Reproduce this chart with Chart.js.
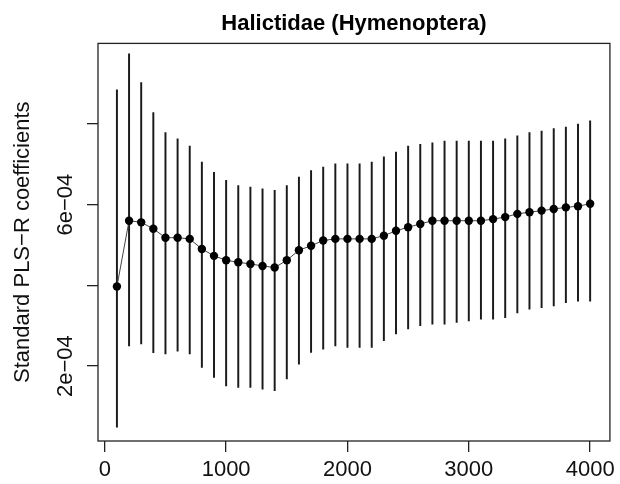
<!DOCTYPE html>
<html>
<head>
<meta charset="utf-8">
<script src="https://cdn.jsdelivr.net/npm/chart.js@4.4.0/dist/chart.umd.min.js"></script>
<style>
  html, body { margin: 0; padding: 0; background: #fff; }
  #wrap { width: 620px; height: 484px; }
</style>
</head>
<body>
<div id="wrap"><canvas id="c" width="620" height="484"></canvas></div>
<script>
// Number of components / wavelength index on the x axis
const xValues = [100,200,300,400,500,600,700,800,900,1000,1100,1200,1300,1400,1500,1600,1700,1800,1900,2000,
                 2100,2200,2300,2400,2500,2600,2700,2800,2900,3000,3100,3200,3300,3400,3500,3600,3700,3800,3900,4000];
// Standard PLS-R coefficients (point estimates)
const coefValues = [3.97e-4,5.60e-4,5.56e-4,5.40e-4,5.18e-4,5.18e-4,5.15e-4,4.90e-4,4.73e-4,4.62e-4,
                    4.57e-4,4.53e-4,4.48e-4,4.44e-4,4.62e-4,4.87e-4,4.98e-4,5.11e-4,5.15e-4,5.15e-4,
                    5.15e-4,5.15e-4,5.23e-4,5.35e-4,5.44e-4,5.52e-4,5.60e-4,5.60e-4,5.60e-4,5.60e-4,
                    5.60e-4,5.64e-4,5.69e-4,5.77e-4,5.81e-4,5.85e-4,5.89e-4,5.93e-4,5.96e-4,6.02e-4];
// Lower ends of the vertical bars
const lowerValues = [0.49e-4,2.50e-4,2.55e-4,2.33e-4,2.30e-4,2.37e-4,2.30e-4,1.97e-4,1.72e-4,1.51e-4,
                     1.47e-4,1.47e-4,1.43e-4,1.39e-4,1.68e-4,2.05e-4,2.34e-4,2.42e-4,2.50e-4,2.46e-4,
                     2.46e-4,2.46e-4,2.63e-4,2.80e-4,2.92e-4,3.00e-4,3.04e-4,3.04e-4,3.08e-4,3.12e-4,
                     3.16e-4,3.16e-4,3.20e-4,3.32e-4,3.41e-4,3.45e-4,3.49e-4,3.57e-4,3.61e-4,3.61e-4];
// Upper ends of the vertical bars
const upperValues = [8.84e-4,9.73e-4,9.02e-4,8.28e-4,7.78e-4,7.63e-4,7.45e-4,7.05e-4,6.80e-4,6.60e-4,
                     6.47e-4,6.43e-4,6.39e-4,6.35e-4,6.47e-4,6.68e-4,6.84e-4,6.93e-4,7.01e-4,7.01e-4,
                     7.01e-4,7.05e-4,7.18e-4,7.30e-4,7.45e-4,7.49e-4,7.53e-4,7.57e-4,7.57e-4,7.57e-4,
                     7.57e-4,7.57e-4,7.63e-4,7.70e-4,7.78e-4,7.82e-4,7.88e-4,7.92e-4,7.99e-4,8.07e-4];
// Axis ticks
const xTicks = [0,1000,2000,3000,4000];
const yTicks = [2e-4,4e-4,6e-4,8e-4];
const yTickLabels = {"2e-4": "2e\u221204", "6e-4": "6e\u221204"};
const titleText = "Halictidae (Hymenoptera)";
const yTitleText = "Standard PLS\u2212R coefficients";

const FONT = "'Liberation Sans', Arial, Helvetica, sans-serif";
const INK = '#111';

const barData = xValues.map((x, i) => ({x: x, y: [lowerValues[i], upperValues[i]]}));
const pointData = xValues.map((x, i) => ({x: x, y: coefValues[i]}));

const framePlugin = {
  id: 'frame',
  afterDraw(chart) {
    const {ctx, chartArea: a} = chart;
    ctx.save();
    ctx.strokeStyle = '#222';
    ctx.lineWidth = 1.3;
    ctx.strokeRect(a.left, a.top, a.right - a.left, a.bottom - a.top);
    // rotated y tick labels (R style, parallel to the axis)
    const ys = chart.scales.y;
    ctx.fillStyle = INK;
    ctx.font = "22px " + FONT;
    ctx.textAlign = 'center';
    ctx.textBaseline = 'alphabetic';
    yTicks.forEach(v => {
      const key = (v * 1e4).toFixed(0) + 'e-4';
      const lab = yTickLabels[key];
      if (!lab) return;
      const py = ys.getPixelForValue(v);
      ctx.save();
      ctx.translate(72, py);
      ctx.rotate(-Math.PI / 2);
      ctx.fillText(lab, 0, 0);
      ctx.restore();
    });
    ctx.restore();
  }
};

new Chart(document.getElementById('c'), {
  type: 'bar',
  data: {
    datasets: [
      {
        type: 'line',
        data: pointData,
        borderColor: '#444',
        borderWidth: 1,
        backgroundColor: '#000',
        pointBackgroundColor: '#000',
        pointBorderColor: '#000',
        pointRadius: 4.2,
        pointBorderWidth: 0,
        tension: 0,
        order: 0
      },
      {
        type: 'bar',
        data: barData,
        backgroundColor: '#1a1a1a',
        borderWidth: 0,
        barThickness: 1.3,
        grouped: false,
        order: 1
      }
    ]
  },
  options: {
    responsive: false,
    animation: false,
    events: [],
    layout: { padding: { left: 0, right: 8, top: 0, bottom: 0 } },
    plugins: {
      legend: { display: false },
      tooltip: { enabled: false },
      title: {
        display: true,
        text: titleText,
        fullSize: false,
        color: '#000',
        font: { family: FONT, size: 22, weight: 'bold' },
        padding: { top: 11, bottom: 6 }
      }
    },
    scales: {
      x: {
        type: 'linear',
        offset: false,
        min: -56,
        max: 4163,
        afterBuildTicks(scale) { scale.ticks = xTicks.map(v => ({value: v})); },
        afterFit(scale) { scale.height = 43; },
        border: { display: false },
        grid: { display: true, offset: false, drawOnChartArea: false, drawTicks: true, tickLength: 11, color: '#222', lineWidth: 1.3 },
        ticks: {
          color: INK,
          font: { family: FONT, size: 22 },
          padding: 5,
          maxRotation: 0,
          autoSkip: false,
          callback: (v) => String(v)
        }
      },
      y: {
        type: 'linear',
        min: 0.146e-4,
        max: 9.99e-4,
        afterBuildTicks(scale) { scale.ticks = yTicks.map(v => ({value: v})); },
        afterFit(scale) { scale.width = 98; },
        border: { display: false },
        grid: { display: true, drawOnChartArea: false, drawTicks: true, tickLength: 11, color: '#222', lineWidth: 1.3 },
        ticks: { display: false },
        title: {
          display: true,
          text: yTitleText,
          color: INK,
          font: { family: FONT, size: 22 },
          padding: { top: 10, bottom: 0 }
        }
      }
    }
  },
  plugins: [framePlugin]
});
</script>
</body>
</html>
